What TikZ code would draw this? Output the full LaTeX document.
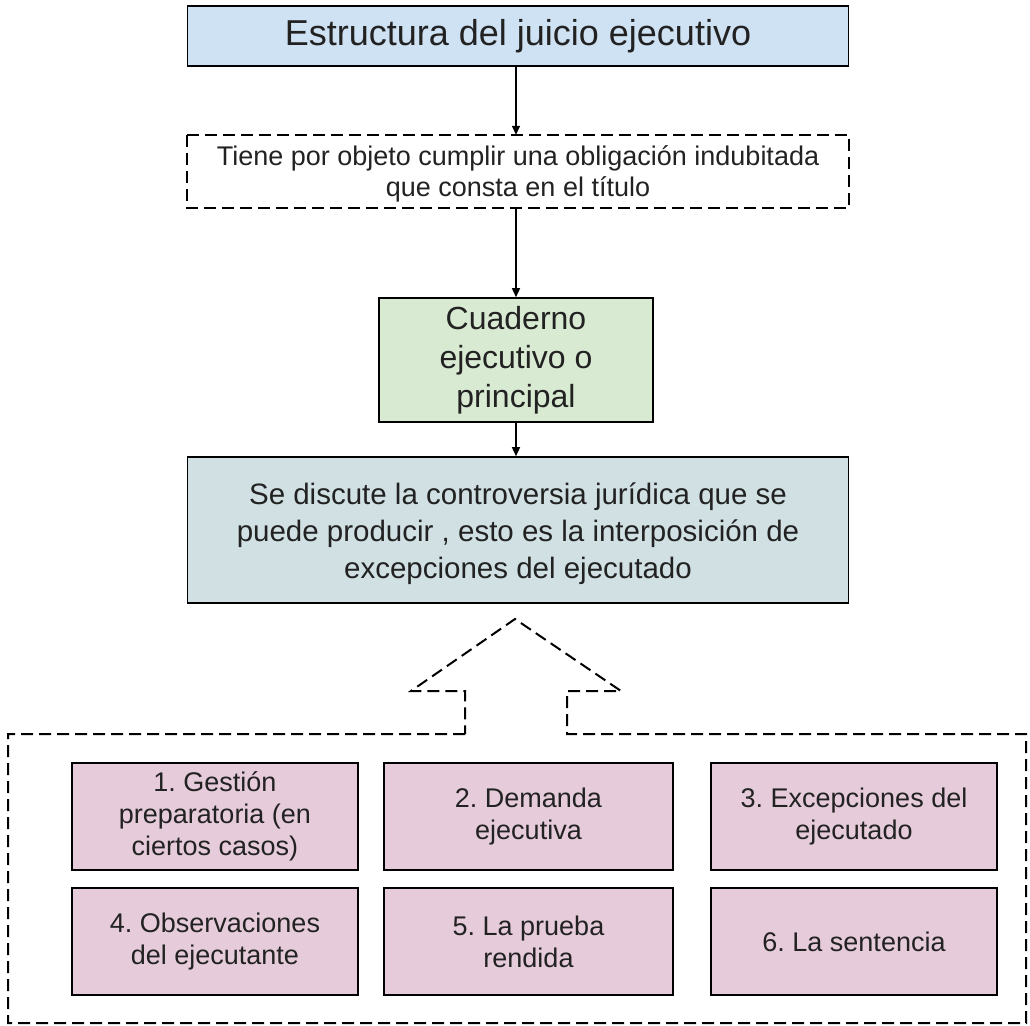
\documentclass[tikz,border=0pt]{standalone}
\usepackage{fontspec}
\setmainfont{Liberation Sans}
\usetikzlibrary{arrows.meta}
\definecolor{topblue}{HTML}{CFE2F3}
\definecolor{lgreen}{HTML}{D9EAD3}
\definecolor{lcyan}{HTML}{D0E0E3}
\definecolor{lpink}{HTML}{E6CCDA}
\definecolor{txt}{HTML}{222222}
\frenchspacing
\tikzset{
  boxbase/.style={draw=black, line width=1.6pt, align=center, inner sep=0pt, text=txt},
  stepbox/.style={boxbase, fill=lpink, minimum width=286pt, minimum height=107pt,
    font=\fontsize{27}{32}\selectfont},
  conn/.style={line width=1.5pt, -{Triangle[length=9pt,width=8pt]}},
  dashline/.style={line width=2pt, dash pattern=on 12pt off 6pt}
}
\begin{document}
\begin{tikzpicture}[x=1pt,y=-1pt]
\useasboundingbox (0,0) rectangle (1030,1025);
\node[boxbase, fill=topblue, minimum width=661pt, minimum height=60pt,
  font=\fontsize{36}{40}\selectfont] (top) at (518,36) {Estructura del juicio ejecutivo};
\node[align=center, inner sep=0pt, minimum width=661pt, minimum height=73pt, text=txt,
  font=\fontsize{27}{31}\selectfont] (obj) at (518,171.5)
  {\rule{0pt}{24pt}Tiene por objeto cumplir una obligación indubitada\\que consta en el título};
\draw[dashline] (obj.north west) rectangle (obj.south east);
\node[boxbase, fill=lgreen, minimum width=274pt, minimum height=124pt,
  font=\fontsize{32}{39}\selectfont] (grn) at (516,360) {Cuaderno\\ejecutivo o\\principal};
\node[boxbase, fill=lcyan, minimum width=661pt, minimum height=146pt,
  font=\fontsize{29.5}{37}\selectfont] (disc) at (518,530)
  {\rule{0pt}{30pt}Se discute la controversia jurídica que se\\puede producir , esto es la interposición de\\excepciones del ejecutado};
\draw[conn] (top.south -| grn.center) -- (obj.north -| grn.center);
\draw[conn] (obj.south -| grn.center) -- (grn.north);
\draw[conn] (grn.south) -- (disc.north -| grn.center);
% dashed up-arrow and frame
\draw[dashline] (465,734) -- (8,734) -- (8,1023) -- (1026,1023) -- (1026,734) -- (567,734)
  -- (567,691) -- (621,691) -- (515,619) -- (411,691) -- (465,691) -- cycle;
\node[stepbox] (s1) at (215,816.5) {1. Gestión\\preparatoria (en\\ciertos casos)};
\node[stepbox, minimum width=289pt] (s2) at (528.5,816.5) {2. Demanda\\ejecutiva};
\node[stepbox] (s3) at (854,816.5) {3. Excepciones del\\ejecutado};
\node[stepbox] (s4) at (215,941.5) {4. Observaciones\\del ejecutante};
\node[stepbox, minimum width=289pt] (s5) at (528.5,941.5) {5. La prueba\\rendida};
\node[stepbox] (s6) at (854,941.5) {6. La sentencia};
\end{tikzpicture}
\end{document}
